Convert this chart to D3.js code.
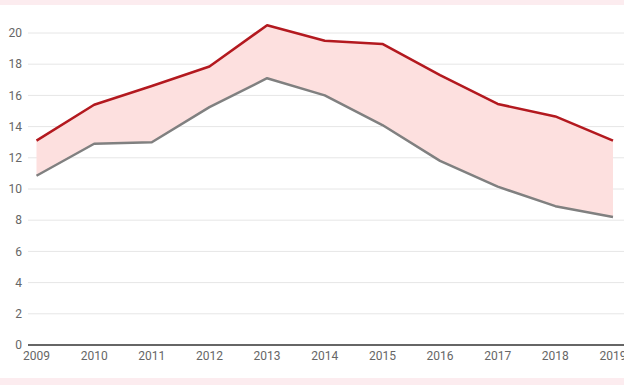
<!DOCTYPE html>
<html>
<head>
<meta charset="utf-8">
<script src="https://cdn.jsdelivr.net/npm/d3@7"></script>
<style>
  html, body { margin: 0; padding: 0; background: #ffffff; }
  svg { display: block; font-family: Roboto, "Noto Sans", sans-serif; }
</style>
</head>
<body>
<svg width="624" height="385"></svg>
<script>
const years = [2009, 2010, 2011, 2012, 2013, 2014, 2015, 2016, 2017, 2018, 2019];
const redValues = [13.1, 15.4, 16.6, 17.85, 20.5, 19.5, 19.3, 17.3, 15.45, 14.65, 13.1];
const greyValues = [10.85, 12.9, 13.0, 15.25, 17.1, 16.0, 14.1, 11.8, 10.15, 8.9, 8.2];
const yTicks = [0, 2, 4, 6, 8, 10, 12, 14, 16, 18, 20];

const width = 624, height = 385;
const svg = d3.select("svg");

// pink page bands top and bottom
svg.append("rect").attr("x", 0).attr("y", 0).attr("width", width).attr("height", 5).attr("fill", "#fcecef");
svg.append("rect").attr("x", 0).attr("y", 378).attr("width", width).attr("height", 7).attr("fill", "#fcecef");

const x = d3.scalePoint()
  .domain(years)
  .range([36.5, 613]);

const y = d3.scaleLinear()
  .domain([0, 20])
  .range([345, 33]);

// grid
svg.append("g")
  .selectAll("line")
  .data(yTicks.filter(d => d > 0))
  .enter()
  .append("line")
  .attr("x1", 28)
  .attr("x2", width)
  .attr("y1", d => y(d))
  .attr("y2", d => y(d))
  .attr("stroke", "#e6e6e6")
  .attr("stroke-width", 1);

// y labels
svg.append("g")
  .selectAll("text")
  .data(yTicks)
  .enter()
  .append("text")
  .attr("x", 22)
  .attr("y", d => y(d))
  .attr("dy", "0.35em")
  .attr("text-anchor", "end")
  .attr("fill", "#666")
  .style("font-size", "12px")
  .text(d => d);

const data = years.map((yr, i) => ({ year: yr, red: redValues[i], grey: greyValues[i] }));

// band between lines
const area = d3.area()
  .x(d => x(d.year))
  .y0(d => y(d.grey))
  .y1(d => y(d.red));

svg.append("path")
  .datum(data)
  .attr("d", area)
  .attr("fill", "#fde0df");

const lineRed = d3.line().x(d => x(d.year)).y(d => y(d.red));
const lineGrey = d3.line().x(d => x(d.year)).y(d => y(d.grey));

svg.append("path")
  .datum(data)
  .attr("d", lineGrey)
  .attr("fill", "none")
  .attr("stroke", "#808080")
  .attr("stroke-width", 2.5)
  .attr("stroke-linejoin", "round");

svg.append("path")
  .datum(data)
  .attr("d", lineRed)
  .attr("fill", "none")
  .attr("stroke", "#b3191f")
  .attr("stroke-width", 2.5)
  .attr("stroke-linejoin", "round");

// x axis baseline
svg.append("line")
  .attr("x1", 28)
  .attr("x2", width)
  .attr("y1", y(0))
  .attr("y2", y(0))
  .attr("stroke", "#333")
  .attr("stroke-width", 1.5);

// x labels
svg.append("g")
  .selectAll("text")
  .data(years)
  .enter()
  .append("text")
  .attr("x", d => x(d))
  .attr("y", 360)
  .attr("text-anchor", "middle")
  .attr("fill", "#666")
  .style("font-size", "12px")
  .text(d => d);
</script>
</body>
</html>
